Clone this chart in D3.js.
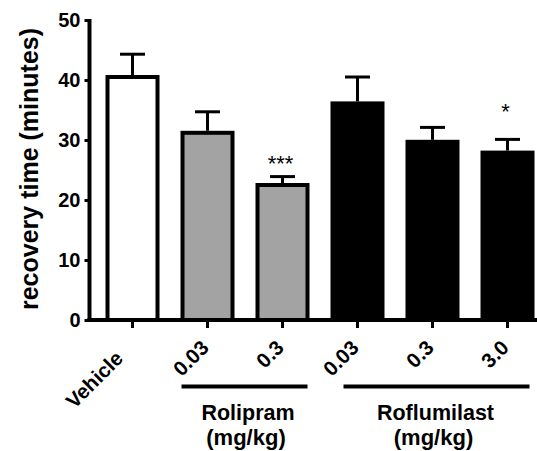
<!DOCTYPE html>
<html>
<head>
<meta charset="utf-8">
<script src="https://cdn.jsdelivr.net/npm/d3@7"></script>
<style>
  body { margin: 0; background: #fff; }
  text { font-family: "Liberation Sans", Arial, sans-serif; font-weight: bold; }
</style>
</head>
<body>
<div id="my_dataviz"></div>
<script>
// data
let groups = ["Vehicle", "0.03", "0.3", "0.03", "0.3", "3.0"];
let means = [40.5, 31.2, 22.5, 36.1, 29.7, 27.9];
let errTop = [44.3, 34.7, 23.9, 40.5, 32.1, 30.1];
let fills = ["#ffffff", "#a3a3a3", "#a3a3a3", "#000000", "#000000", "#000000"];
let stars = ["", "", "***", "", "", "*"];
let starLevel = [0, 0, 24.8, 0, 0, 33.5]; // baseline of the star text, in minutes
let yTicks = [0, 10, 20, 30, 40, 50];
let drugs = [
  {name: "Rolipram", from: 1, to: 2},
  {name: "Roflumilast", from: 3, to: 5}
];

let totalW = 537, totalH = 451;
let margin = {top: 20, left: 89.5};
let height = 300;

let svg = d3.select("#my_dataviz")
.append("svg")
  .attr("width", totalW)
  .attr("height", totalH);

// Add X scale (one band per bar)
let x = d3.scaleBand()
  .domain(d3.range(groups.length))
  .range([95, 545])
  .padding(0);

// Add Y axis
let y = d3.scaleLinear()
  .domain([0, 50])
  .range([margin.top + height, margin.top]);

let yAxis = svg.append("g")
  .attr("transform", "translate(" + margin.left + ",0)")
  .call(d3.axisLeft(y).tickValues(yTicks).tickSize(5).tickSizeOuter(0).tickPadding(4));
yAxis.select(".domain").attr("stroke-width", 4).attr("d", "M0," + (y(50) - 1) + "V" + (y(0) + 2));
yAxis.selectAll(".tick line").attr("stroke-width", 3);
yAxis.selectAll(".tick text").style("font-size", "20px").attr("fill", "#000");

let barW = 50;
let cx = function (i) { return x(i) + x.bandwidth() / 2; };

// bars
svg.append("g")
  .selectAll("rect")
  .data(means)
  .enter()
  .append("rect")
    .attr("x", function (d, i) { return cx(i) - barW / 2; })
    .attr("y", function (d) { return y(d); })
    .attr("width", barW)
    .attr("height", function (d) { return y(0) - y(d); })
    .attr("fill", function (d, i) { return fills[i]; })
    .attr("stroke", "#000")
    .attr("stroke-width", 4);

// error bars (upper only)
let err = svg.append("g").attr("stroke", "#000").attr("stroke-width", 3);
err.selectAll(".stem")
  .data(errTop)
  .enter()
  .append("line")
    .attr("x1", function (d, i) { return cx(i); })
    .attr("x2", function (d, i) { return cx(i); })
    .attr("y1", function (d, i) { return y(means[i]) - 2; })
    .attr("y2", function (d) { return y(d); });
err.selectAll(".cap")
  .data(errTop)
  .enter()
  .append("line")
    .attr("x1", function (d, i) { return cx(i) - 12.5; })
    .attr("x2", function (d, i) { return cx(i) + 12.5; })
    .attr("y1", function (d) { return y(d); })
    .attr("y2", function (d) { return y(d); });

// significance stars
svg.append("g")
  .selectAll("text")
  .data(stars)
  .enter()
  .append("text")
    .attr("x", function (d, i) { return cx(i) - 2; })
    .attr("y", function (d, i) { return y(starLevel[i]); })
    .attr("text-anchor", "middle")
    .style("font-size", "22px")
    .style("font-weight", "normal")
    .text(function (d) { return d; });

// X axis line and ticks
svg.append("line")
  .attr("x1", margin.left - 2).attr("x2", totalW)
  .attr("y1", y(0)).attr("y2", y(0))
  .attr("stroke", "#000").attr("stroke-width", 4);
svg.append("g")
  .selectAll("line")
  .data(groups)
  .enter()
  .append("line")
    .attr("x1", function (d, i) { return cx(i); })
    .attr("x2", function (d, i) { return cx(i); })
    .attr("y1", y(0))
    .attr("y2", y(0) + 8)
    .attr("stroke", "#000")
    .attr("stroke-width", 3);

// rotated category labels
svg.append("g")
  .selectAll("text")
  .data(groups)
  .enter()
  .append("text")
    .attr("transform", function (d, i) {
      return "translate(" + (cx(i) + 2.5) + "," + (y(0) + 29) + ") rotate(-45)";
    })
    .attr("dx", function (d, i) { return i === 0 ? -15 : 0; })
    .attr("text-anchor", "end")
    .style("font-size", "20.5px")
    .text(function (d) { return d; });

// drug group bars + names
let lineInset = [{l: -26, r: 25}, {l: -14, r: 22}];
let grp = svg.append("g");
grp.selectAll("line")
  .data(drugs)
  .enter()
  .append("line")
    .attr("x1", function (d, i) { return cx(d.from) + lineInset[i].l; })
    .attr("x2", function (d, i) { return cx(d.to) + lineInset[i].r; })
    .attr("y1", 386.5)
    .attr("y2", 386.5)
    .attr("stroke", "#000")
    .attr("stroke-width", 4);
grp.selectAll(".name")
  .data(drugs)
  .enter()
  .append("text")
    .attr("x", function (d) { return (cx(d.from) + cx(d.to)) / 2 + 3; })
    .attr("y", 420)
    .attr("text-anchor", "middle")
    .style("font-size", "21.5px")
    .text(function (d) { return d.name; });
grp.selectAll(".unit")
  .data(drugs)
  .enter()
  .append("text")
    .attr("x", function (d) { return (cx(d.from) + cx(d.to)) / 2 + 1; })
    .attr("y", 445)
    .attr("text-anchor", "middle")
    .style("font-size", "22px")
    .text("(mg/kg)");

// Y axis title
svg.append("text")
  .attr("transform", "translate(38," + 169 + ") rotate(-90)")
  .attr("text-anchor", "middle")
  .style("font-size", "25px")
  .text("recovery time (minutes)");
</script>
</body>
</html>
